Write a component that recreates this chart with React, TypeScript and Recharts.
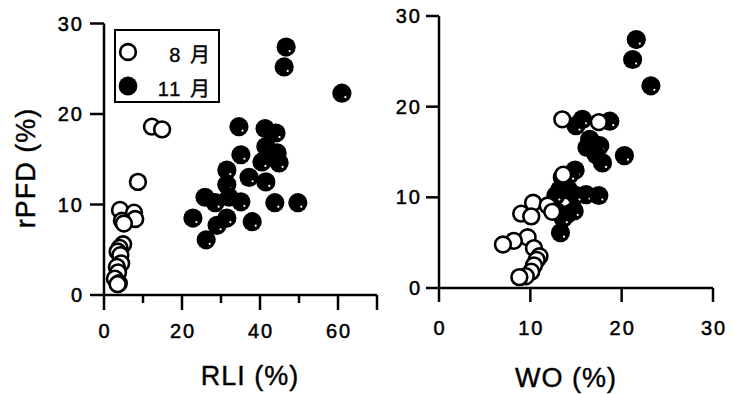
import React from 'react';
import { ScatterChart, Scatter, XAxis, YAxis, Legend } from 'recharts';

const monthNames = ['8 月', '11 月'];

// August (open circles)
const augRPFD = [18.6, 18.3, 12.5, 9.4, 9.1, 8.4, 8.2, 7.9, 5.6, 5.2, 4.8, 4.4, 3.5, 3.1, 2.5, 1.8, 1.3, 1.2];
const augRLI = [12.3, 14.9, 8.7, 4.1, 7.7, 8.0, 4.6, 5.1, 4.9, 4.0, 3.5, 4.2, 4.4, 3.3, 3.6, 2.8, 3.8, 3.5];
const augWO = [13.5, 17.5, 13.6, 10.3, 11.9, 12.4, 9.0, 10.1, 9.7, 8.2, 7.0, 10.4, 11.0, 10.7, 10.4, 10.1, 9.5, 8.8];

// November (filled circles)
const novRPFD = [27.4, 25.2, 22.3, 18.6, 18.4, 17.9, 16.4, 15.7, 15.5, 14.7, 14.6, 13.8, 13.0, 12.5, 12.2, 10.8, 10.8, 10.3, 10.2, 10.2, 10.2, 8.5, 8.5, 8.1, 7.7, 6.1];
const novRLI = [46.7, 46.2, 61.0, 34.6, 41.3, 44.1, 41.5, 44.4, 35.1, 40.5, 44.9, 31.5, 37.2, 41.5, 31.5, 25.9, 32.1, 35.1, 28.5, 43.8, 49.7, 22.8, 31.5, 38.0, 29.0, 26.2];
const novWO = [21.6, 21.2, 23.2, 15.7, 18.7, 15.0, 16.5, 17.6, 16.2, 17.2, 20.3, 17.9, 14.9, 14.3, 13.5, 13.2, 14.2, 16.1, 12.8, 17.5, 15.0, 12.8, 14.8, 14.0, 13.6, 13.3];

const rliTicks = [0, 10, 20, 30, 40, 50, 60, 70];
const woTicks = [0, 10, 20, 30];
const rpfdTicks = [0, 10, 20, 30];

const FONT = "'Liberation Sans', Arial, 'Noto Sans CJK JP', sans-serif";

const augData = augRPFD.map((v, i) => ({ rpfd: v, rli: augRLI[i], wo: augWO[i] }));
const novData = novRPFD.map((v, i) => ({ rpfd: v, rli: novRLI[i], wo: novWO[i] }));

const OpenDot = (props: any) => (
  <circle cx={props.cx} cy={props.cy} r={7.9} fill="#fff" stroke="#000" strokeWidth={2.6} />
);

const FilledDot = (props: any) => (
  <g>
    <circle cx={props.cx} cy={props.cy} r={9.6} fill="#000" />
    <circle cx={props.cx + 3.5} cy={props.cy + 4} r={1.1} fill="#fff" />
  </g>
);

const tickText = { fontSize: 20, fill: '#000', stroke: '#000', strokeWidth: 0.5, fontFamily: FONT, letterSpacing: 2 };

const RliTick = (props: any) => {
  const { x, y, payload } = props;
  const major = payload.value % 20 === 0 || payload.value === 70;
  return (
    <g>
      <line x1={x} x2={x} y1={y} y2={y + (major ? 15 : 8)} stroke="#000" strokeWidth={2.5} />
      {payload.value % 20 === 0 && (
        <text x={x + 1} y={y + 43} textAnchor="middle" {...tickText}>{payload.value}</text>
      )}
    </g>
  );
};

const WoTick = (props: any) => {
  const { x, y, payload } = props;
  return (
    <g>
      <line x1={x} x2={x} y1={y} y2={y + 14} stroke="#000" strokeWidth={2.5} />
      <text x={x + 1} y={y + 47} textAnchor="middle" {...tickText}>{payload.value}</text>
    </g>
  );
};

const LegendBox = () => (
  <div style={{ position: 'relative', width: 106, height: 74, border: '2px solid #000', boxSizing: 'border-box', background: '#fff', fontFamily: FONT, fontSize: 20, color: '#000', WebkitTextStroke: '0.4px #000' }}>
    <svg width={24} height={70} style={{ position: 'absolute', left: 2, top: 0 }}>
      <circle cx={10} cy={21} r={7.9} fill="#fff" stroke="#000" strokeWidth={2.6} />
      <circle cx={10} cy={55} r={9.4} fill="#000" />
    </svg>
    <div style={{ position: 'absolute', right: 6, top: 8, letterSpacing: 2 }}>{monthNames[0]}</div>
    <div style={{ position: 'absolute', right: 6, top: 42, letterSpacing: 2 }}>{monthNames[1]}</div>
  </div>
);

const titleStyle: React.CSSProperties = {
  position: 'absolute', fontFamily: FONT, fontSize: 27, color: '#000', letterSpacing: 1, whiteSpace: 'nowrap',
  WebkitTextStroke: '0.4px #000',
};

export default function App() {
  return (
    <div style={{ position: 'absolute', left: 0, top: 0, width: 733, height: 394, background: '#fff' }}>
      <div style={{ position: 'absolute', left: 0, top: 0 }}>
        <ScatterChart width={400} height={394} margin={{ top: 23.5, right: 23, bottom: 59, left: 44 }}>
          <XAxis
            type="number" dataKey="rli" domain={[0, 70]} ticks={rliTicks} interval={0}
            height={40} tickSize={0} tickMargin={0} tickLine={false} tick={<RliTick />}
            axisLine={{ stroke: '#000', strokeWidth: 2.5 }}
          />
          <YAxis
            type="number" dataKey="rpfd" domain={[0, 30]} ticks={rpfdTicks} interval={0}
            width={60} tickSize={14} tickMargin={6}
            tickLine={{ stroke: '#000', strokeWidth: 2.5 }}
            axisLine={{ stroke: '#000', strokeWidth: 2.5 }}
            tick={tickText}
          />
          <Legend layout="vertical" align="center" verticalAlign="middle" content={<LegendBox />}
            wrapperStyle={{ left: 114, top: 29, width: 106, height: 74 }} />
          <Scatter name={monthNames[1]} data={novData} shape={<FilledDot />} isAnimationActive={false} />
          <Scatter name={monthNames[0]} data={augData} shape={<OpenDot />} isAnimationActive={false} />
        </ScatterChart>
      </div>
      <div style={{ position: 'absolute', left: 380, top: 0 }}>
        <ScatterChart width={353} height={394} margin={{ top: 16, right: 20, bottom: 66, left: 19 }}>
          <XAxis
            type="number" dataKey="wo" domain={[0, 30]} ticks={woTicks} interval={0}
            height={40} tickSize={0} tickMargin={0} tickLine={false} tick={<WoTick />}
            axisLine={{ stroke: '#000', strokeWidth: 2.5 }}
          />
          <YAxis
            type="number" dataKey="rpfd" domain={[0, 30]} ticks={rpfdTicks} interval={0}
            width={40} tickSize={13} tickMargin={4}
            tickLine={{ stroke: '#000', strokeWidth: 2.5 }}
            axisLine={{ stroke: '#000', strokeWidth: 2.5 }}
            tick={tickText}
          />
          <Scatter name={monthNames[1]} data={novData} shape={<FilledDot />} isAnimationActive={false} />
          <Scatter name={monthNames[0]} data={augData} shape={<OpenDot />} isAnimationActive={false} />
        </ScatterChart>
      </div>
      <div style={{ ...titleStyle, left: 26, top: 168, transform: 'translate(-50%, -50%) rotate(-90deg)' }}>rPFD (%)</div>
      <div style={{ ...titleStyle, left: 250, top: 376, transform: 'translate(-50%, -50%)' }}>RLI (%)</div>
      <div style={{ ...titleStyle, left: 566, top: 378, transform: 'translate(-50%, -50%)' }}>WO (%)</div>
    </div>
  );
}
